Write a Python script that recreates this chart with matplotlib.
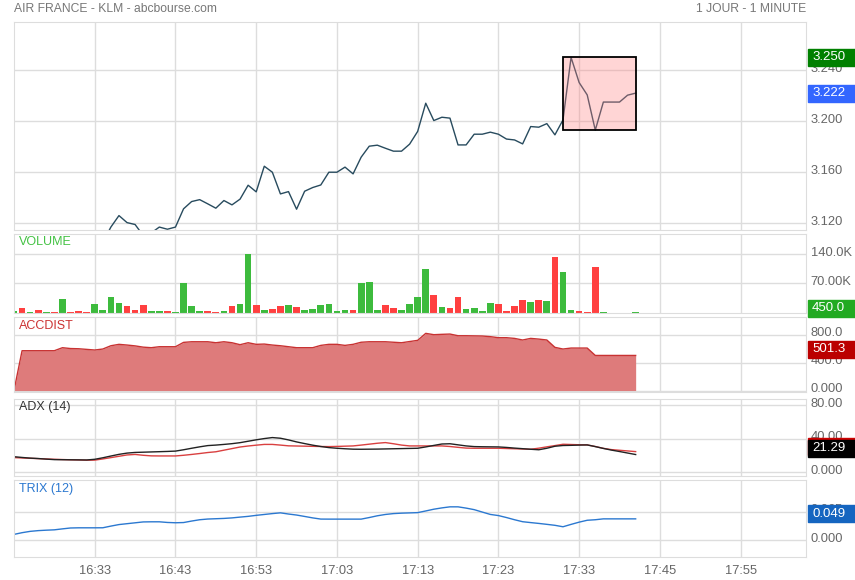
import numpy as np
import matplotlib
matplotlib.use("Agg")
import matplotlib.pyplot as plt
from matplotlib.patches import Rectangle
from matplotlib.transforms import ScaledTranslation

plt.rcParams['font.family'] = ['Liberation Sans', 'DejaVu Sans']

# ---- data (one point per minute, index 0 = 16:23) ----
prix = [3.100, 3.102, 3.104, 3.101, 3.103, 3.105, 3.102, 3.104, 3.106, 3.103,
        3.104, 3.105, 3.117, 3.126, 3.1205, 3.119, 3.1104, 3.1124, 3.117, 3.1153,
        3.117, 3.1313, 3.137, 3.1385, 3.1352, 3.1318, 3.1378, 3.1344, 3.1389, 3.1498,
        3.1446, 3.1647, 3.160, 3.143, 3.1448, 3.131, 3.1451, 3.148, 3.150, 3.160,
        3.160, 3.164, 3.1587, 3.1718, 3.1804, 3.1812, 3.1788, 3.1765, 3.1765, 3.182,
        3.192, 3.2141, 3.2005, 3.2031, 3.2024, 3.1814, 3.1814, 3.1898, 3.1898, 3.1914,
        3.1898, 3.186, 3.1853, 3.1822, 3.1958, 3.1953, 3.1981, 3.1893, 3.201, 3.250,
        3.2303, 3.2206, 3.193, 3.215, 3.215, 3.215, 3.2204, 3.222]

volume = [3200, 12000, 1600, 6400, 1600, 2400, 32800, 1600, 4000, 2400,
          20800, 6400, 37600, 24000, 15200, 6400, 19200, 4000, 4000, 4000,
          1600, 71200, 16000, 4800, 4800, 2400, 4800, 16000, 20800, 140800,
          18400, 7200, 8000, 16000, 17600, 12800, 5600, 8800, 17600, 20000,
          4000, 6400, 6400, 72000, 73600, 6400, 18400, 11200, 6400, 20800,
          37600, 104800, 41600, 13600, 11200, 37600, 8800, 11200, 4800, 22400,
          20000, 4000, 16000, 30400, 24800, 30400, 28000, 134400, 96800, 6400,
          4000, 2400, 109600, 1600, 0, 0, 0, 450]
# sens de la bougie : h = hausse, b = baisse
sens = "hbhbhbhbbbhhhhbbbhhbhhhhbbhbhhbhbbhbhhhhhhbhhhbbhhhhbhbbhhhhbbbbhbhbhhbbbhhhhh"

accdist = [0, 569, 569, 569, 569, 569, 612, 600, 597, 588,
           579, 593, 640, 660, 650, 638, 620, 612, 626, 626,
           626, 688, 697, 697, 697, 683, 697, 683, 655, 683,
           660, 664, 650, 640, 626, 612, 612, 612, 645, 660,
           660, 645, 660, 690, 697, 697, 697, 690, 683, 700,
           717, 817, 798, 803, 807, 783, 783, 781, 779, 770,
           755, 755, 745, 722, 745, 735, 722, 617, 593, 607,
           607, 607, 501.3, 501.3, 501.3, 501.3, 501.3, 501.3]

adx = [18.7, 17.8, 17.0, 16.5, 15.8, 15.2, 15.1, 15.0, 14.9, 14.8,
       15.6, 17.4, 19.5, 21.5, 23.0, 23.8, 24.1, 24.4, 24.7, 25.0,
       25.4, 27.0, 28.8, 30.5, 32.0, 32.6, 33.4, 34.3, 35.5, 37.2,
       38.9, 40.4, 41.6, 40.8, 38.8, 36.4, 34.4, 32.5, 30.9, 29.6,
       28.8, 28.2, 27.7, 27.6, 27.7, 27.8, 28.0, 28.2, 28.4, 28.6,
       28.8, 30.4, 32.2, 33.9, 34.2, 32.9, 31.6, 30.8, 30.6, 30.5,
       30.4, 29.8, 29.0, 28.3, 27.6, 27.0, 28.8, 31.2, 32.1, 32.3,
       32.6, 32.8, 30.8, 28.6, 26.6, 24.9, 23.1, 21.29]
adx_rouge = [17.6, 17.2, 16.8, 16.4, 16.0, 15.6, 15.3, 15.0, 14.8, 14.5,
             14.6, 16.0, 17.6, 19.2, 20.8, 21.4, 20.4, 19.7, 19.6, 19.6,
             19.6, 20.4, 21.4, 22.5, 23.7, 24.6, 26.5, 28.4, 30.3, 31.5,
             32.5, 33.4, 33.4, 32.6, 31.7, 31.5, 31.3, 31.1, 30.9, 30.8,
             31.0, 31.3, 31.6, 32.6, 33.7, 34.8, 35.6, 34.2, 32.6, 31.6,
             31.6, 31.6, 31.6, 31.6, 30.9, 29.9, 29.0, 28.8, 28.8, 28.8,
             28.8, 28.5, 28.2, 27.9, 27.6, 28.9, 30.5, 32.0, 33.6, 33.3,
             33.0, 32.8, 30.9, 28.7, 27.2, 26.4, 25.6, 24.8]

trix = [0.0136, 0.0175, 0.0205, 0.0222, 0.0232, 0.0240, 0.0262, 0.0282, 0.0286, 0.0286,
        0.0286, 0.0287, 0.0325, 0.0360, 0.0380, 0.0400, 0.0420, 0.0423, 0.0423, 0.0408,
        0.0401, 0.0406, 0.0440, 0.0470, 0.0486, 0.0493, 0.0500, 0.0512, 0.0530, 0.0547,
        0.0570, 0.0590, 0.0610, 0.0627, 0.0600, 0.0577, 0.0545, 0.0512, 0.0485, 0.0484,
        0.0484, 0.0484, 0.0484, 0.0484, 0.0520, 0.0560, 0.0590, 0.0610, 0.0620, 0.0626,
        0.0632, 0.0670, 0.0710, 0.0740, 0.0764, 0.0764, 0.0735, 0.0700, 0.0645, 0.0591,
        0.0565, 0.0520, 0.0470, 0.0425, 0.0405, 0.0386, 0.0365, 0.0343, 0.0310, 0.0364,
        0.0415, 0.0458, 0.0470, 0.0490, 0.0490, 0.0490, 0.0490, 0.0490]

heures = ["16:33", "16:43", "16:53", "17:03", "17:13", "17:23", "17:33", "17:45", "17:55"]
pos_heures = [10, 20, 30, 40, 50, 60, 70, 80, 90]
debut_zone = 68  # zone encadrée (plus haut / plus bas récents)

# ---- figure ----
W, H = 855, 580
fig = plt.figure(figsize=(W / 100, H / 100), dpi=100)
GRIS = '#dddddd'
TEXTE = '#666666'
x = np.arange(len(prix))
decale = ScaledTranslation(0, 3 / 100, fig.dpi_scale_trans)  # libellés 3 px au-dessus


def panneau(haut, bas):
    ax = fig.add_axes([14 / W, 1 - bas / H, 792 / W, (bas - haut) / H])
    ax.set_xlim(0, 98.1)
    ax.set_xticks(pos_heures)
    ax.grid(True, color=GRIS, lw=1)
    ax.set_axisbelow(True)
    for s in ax.spines.values():
        s.set_color(GRIS)
    ax.yaxis.tick_right()
    ax.tick_params(length=0, labelsize=9.3, labelcolor=TEXTE, pad=3.5)
    ax.tick_params(axis='x', labelbottom=False)
    return ax


def relever(ax):
    for lbl in ax.get_yticklabels():
        lbl.set_transform(lbl.get_transform() + decale)


def etiquette(ax, v, txt, couleur, dy=0):
    y = ax.transData.transform((0, v))[1] + dy
    fig.add_artist(Rectangle((808 / W, (y - 8.5) / H), 47 / W, 17 / H,
                             transform=fig.transFigure, color=couleur, zorder=5))
    fig.text(812 / W, y / H, txt, color='white', va='center', ha='left',
             fontsize=9.5, zorder=6)


# prix
ax1 = panneau(21.7, 230)
ax1.plot(x, prix, color='#284b5e', lw=1)
ax1.set_ylim(3.1147, 3.278)
ax1.set_yticks([3.120, 3.160, 3.200, 3.240])
ax1.set_yticklabels(['3.120', '3.160', '3.200', '3.240'])
zone = prix[debut_zone:]
ax1.add_patch(Rectangle((debut_zone, min(zone)), len(prix) - 1 - debut_zone,
                        max(zone) - min(zone), facecolor=(1, 0.5, 0.5, 0.33),
                        edgecolor='black', lw=1.3, zorder=3))
etiquette(ax1, max(prix), '%.3f' % max(prix), '#008000')
etiquette(ax1, prix[-1], '%.3f' % prix[-1], '#3366ff')

# volume
ax2 = panneau(234.3, 312.5)
couleurs = ['#3dbb3d' if c == 'h' else '#ff4040' for c in sens]
ax2.bar(x, volume, width=0.83, color=couleurs)
ax2.set_ylim(0, 188000)
ax2.set_yticks([70000, 140000])
ax2.set_yticklabels(['70.00K', '140.0K'])
ax2.text(0.006, 0.9, 'VOLUME', transform=ax2.transAxes, color='#44c244',
         fontsize=9, va='center')
etiquette(ax2, volume[-1], '%.1f' % volume[-1], '#22aa22', dy=4)

# accdist
ax3 = panneau(316.7, 392)
ax3.fill_between(x, 0, accdist, color='#de7b7b', lw=0)
ax3.plot(x, accdist, color='#c83232', lw=1)
ax3.set_ylim(-21, 1055)
ax3.set_yticks([0, 400, 800])
ax3.set_yticklabels(['0.000', '400.0', '800.0'])
ax3.text(0.006, 0.88, 'ACCDIST', transform=ax3.transAxes, color='#cc3333',
         fontsize=9, va='center')
etiquette(ax3, accdist[-1], '%.1f' % accdist[-1], '#bb0000', dy=6)

# adx
ax4 = panneau(398.8, 476)
ax4.plot(x, adx_rouge, color='#d94040', lw=1)
ax4.plot(x, adx, color='#222222', lw=1)
ax4.set_ylim(-4.4, 88)
ax4.set_yticks([0, 40, 80])
ax4.set_yticklabels(['0.000', '40.00', '80.00'])
ax4.text(0.006, 0.9, 'ADX (14)', transform=ax4.transAxes, color='#333333',
         fontsize=9, va='center')
etiquette(ax4, adx[-1], '', '#cc0000', dy=8.5)
etiquette(ax4, adx[-1], '%.2f' % adx[-1], '#000000', dy=6.5)

# trix
ax5 = panneau(479.5, 557.3)
ax5.plot(x, trix, color='#2b78d0', lw=1)
ax5.set_ylim(-0.0386, 0.1387)
ax5.set_yticks([0, 0.065])
ax5.set_yticklabels(['0.000', '0.065'])
ax5.text(0.006, 0.88, 'TRIX (12)', transform=ax5.transAxes, color='#2b78d0',
         fontsize=9, va='center')
ax5.tick_params(axis='x', labelbottom=True, pad=5.5)
ax5.set_xticklabels(heures)
etiquette(ax5, trix[-1], '%.3f' % trix[-1], '#1565c0', dy=5)

for ax in (ax1, ax2, ax3, ax4, ax5):
    relever(ax)

fig.text(14 / W, 1 - 8.5 / H, 'AIR FRANCE - KLM - abcbourse.com', color='#777777',
         fontsize=8.7, va='center', ha='left')
fig.text(806 / W, 1 - 8.5 / H, '1 JOUR - 1 MINUTE', color='#777777',
         fontsize=8.7, va='center', ha='right')

fig.savefig('out.png', dpi=100)
